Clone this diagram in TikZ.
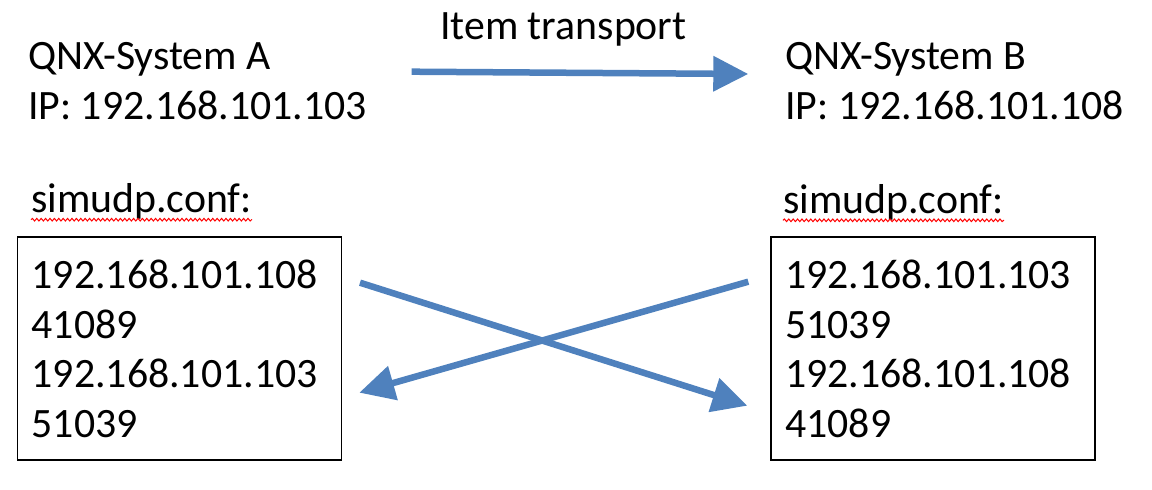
\documentclass[tikz,border=0pt]{standalone}
\usepackage{fontspec}
\setmainfont{Carlito}
\usetikzlibrary{arrows.meta,decorations.pathmorphing}
\definecolor{arrowblue}{RGB}{79,129,189}
\newcommand{\labelfont}{\fontsize{41.8pt}{49.7pt}\selectfont}

\begin{document}
\begin{tikzpicture}[x=1pt,y=1pt]
\tikzstyle{every node}+=[inner sep=0pt, font=\labelfont]
\tikzstyle{flow}=[draw=arrowblue, line width=6.5pt, -{Triangle[length=35pt,width=34pt]}]
\tikzstyle{confbox}=[draw, line width=1.5pt, inner xsep=14.5pt, inner ysep=22.5pt, text width=295.3pt, align=left, anchor=north west]
\tikzstyle{squiggle}=[draw=red, line width=1pt, decorate, decoration={snake, amplitude=1.3pt, segment length=4.4pt}]
\useasboundingbox (0,0) rectangle (1152,490);
% system labels
\node (sysA) [anchor=north west, align=left] at (28,448) {QNX-System A\\IP: 192.168.101.103};
\node (sysB) [anchor=north west, align=left] at (785,448) {QNX-System B\\IP: 192.168.101.108};
\node (transport) [anchor=base west] at (440,450) {Item transport};
% config files
\node (confA) [anchor=base west] at (31,277.3) {simudp.conf:};
\node (confB) [anchor=base west] at (783,276.7) {simudp.conf:};
\draw [squiggle] ([yshift=-7pt]confA.base west) -- ([yshift=-7pt]confA.base east);
\draw [squiggle] ([yshift=-7pt]confB.base west) -- ([yshift=-7pt]confB.base east);
\node (boxA) [confbox] at (16.5,253.5) {192.168.101.108\\41089\\192.168.101.103\\51039};
\node (boxB) [confbox] at (770,253.5) {192.168.101.103\\51039\\192.168.101.108\\41089};
% arrows
\coordinate (topS) at (411.7,418.3);
\coordinate (topE) at (748.3,416);
\coordinate (crossAS) at (360,207.3);
\coordinate (crossAE) at (747.3,84.3);
\coordinate (crossBS) at (748.3,208.3);
\coordinate (crossBE) at (359.3,97.3);
\draw [flow] (topS) -- (topE);
\draw [flow] (crossAS) -- (crossAE);
\draw [flow] (crossBS) -- (crossBE);
\end{tikzpicture}
\end{document}
